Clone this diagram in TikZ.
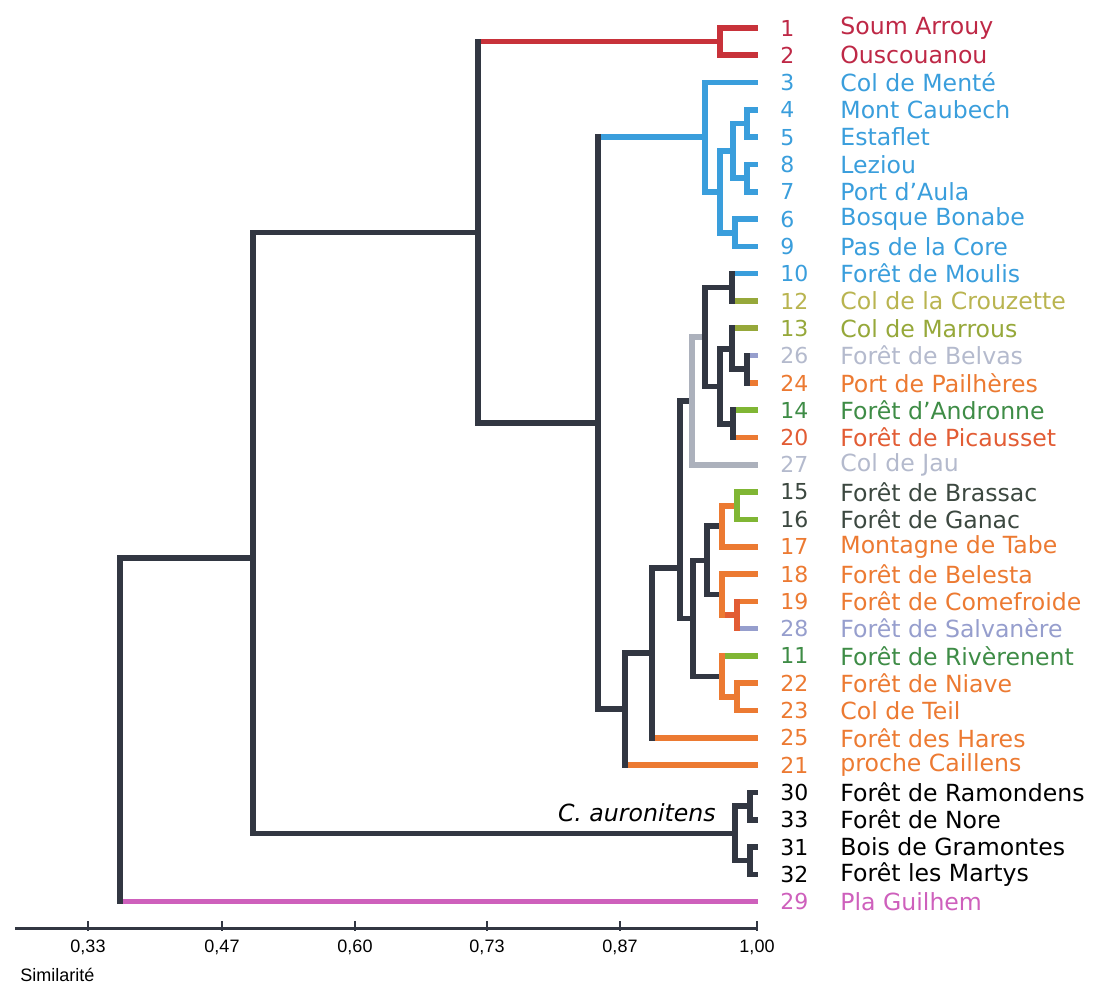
\documentclass[tikz,border=0pt]{standalone}
\usepackage{fontspec}
\setmainfont{DejaVu Sans}
\newfontfamily\achsenfont{Liberation Sans}
\begin{document}
\begin{tikzpicture}[x=0.5pt, y=-0.5pt,
	ast/.style={line width=2.8pt, line cap=rect},
	nrlab/.style={anchor=west, inner sep=0pt, font=\fontsize{11}{13}\selectfont},
	namelab/.style={anchor=west, inner sep=0pt, font=\fontsize{11.8}{13}\selectfont},
	achse/.style={inner sep=0pt, font=\achsenfont\fontsize{9}{11}\selectfont}]
	
	% Farben definieren
	\definecolor{dunkel}{RGB}{50,55,66}
	\definecolor{rot}{RGB}{200,50,58}
	\definecolor{blau}{RGB}{58,158,220}
	\definecolor{grau}{RGB}{172,177,188}
	\definecolor{graublau}{RGB}{150,158,205}
	\definecolor{orange}{RGB}{236,122,50}
	\definecolor{orangerot}{RGB}{226,92,52}
	\definecolor{gruen}{RGB}{128,182,52}
	\definecolor{oliv}{RGB}{150,168,58}
	\definecolor{rosa}{RGB}{206,96,188}
	\definecolor{txtoliv}{RGB}{185,180,80}
	\definecolor{txtgruen}{RGB}{62,140,70}
	\definecolor{txtgrau}{RGB}{180,186,205}
	\definecolor{txtdunkel}{RGB}{60,72,64}
	\definecolor{txtrot}{RGB}{190,40,70}
	
	% Rahmen des Bildes
	\useasboundingbox (0,0) rectangle (1098,994);
	
	% Blätter: Endpunkt, Nummer, Name
	\foreach \i/\nr/\name/\farbe in {
		0/1/Soum Arrouy/txtrot, 1/2/Ouscouanou/txtrot,
		2/3/Col de Menté/blau, 3/4/Mont Caubech/blau, 4/5/Estaflet/blau,
		5/8/Leziou/blau, 6/7/Port d'Aula/blau, 7/6/Bosque Bonabe/blau,
		8/9/Pas de la Core/blau, 9/10/Forêt de Moulis/blau,
		10/12/Col de la Crouzette/txtoliv, 11/13/Col de Marrous/oliv,
		12/26/Forêt de Belvas/txtgrau, 13/24/Port de Pailhères/orange,
		14/14/Forêt d'Andronne/txtgruen, 15/20/Forêt de Picausset/orangerot,
		16/27/Col de Jau/txtgrau, 17/15/Forêt de Brassac/txtdunkel,
		18/16/Forêt de Ganac/txtdunkel, 19/17/Montagne de Tabe/orange,
		20/18/Forêt de Belesta/orange, 21/19/Forêt de Comefroide/orange,
		22/28/Forêt de Salvanère/graublau, 23/11/Forêt de Rivèrenent/txtgruen,
		24/22/Forêt de Niave/orange, 25/23/Col de Teil/orange,
		26/25/Forêt des Hares/orange, 27/21/proche Caillens/orange,
		28/30/Forêt de Ramondens/black, 29/33/Forêt de Nore/black,
		30/31/Bois de Gramontes/black, 31/32/Forêt les Martys/black,
		32/29/Pla Guilhem/rosa}{
		\coordinate (l\nr) at (755,{28+27.3*\i});
		\node[nrlab, text=\farbe] (nr\nr) at (780,{28+27.3*\i}) {\nr};
		\node[namelab, text=\farbe] (name\nr) at (840,{28+27.3*\i}) {\name};
	}
	
	% Knoten des Dendrogramms
	\coordinate (k12) at (720,41.6);
	\coordinate (k45) at (747,123.5);
	\coordinate (k78) at (747,178.2);
	\coordinate (k4578) at (733,150.9);
	\coordinate (k69) at (735,232.8);
	\coordinate (k4569) at (720,191.8);
	\coordinate (k3bis9) at (705,137.2);
	\coordinate (k1012) at (732,287.4);
	\coordinate (k2426) at (747,369.3);
	\coordinate (k13bis24) at (732,348.8);
	\coordinate (k1420) at (733,423.9);
	\coordinate (k13bis20) at (720,386.4);
	\coordinate (k10bis20) at (705,336.9);
	\coordinate (k10bis27) at (692,400.9);
	\coordinate (k1516) at (737,505.8);
	\coordinate (k15bis17) at (722,526.2);
	\coordinate (k1928) at (737,615);
	\coordinate (k18bis28) at (722,594.5);
	\coordinate (k15bis28) at (707,560.4);
	\coordinate (k2223) at (737,696.9);
	\coordinate (k11bis23) at (722,676.4);
	\coordinate (k11bis28) at (693,618.4);
	\coordinate (k10bis28) at (680,568);
	\coordinate (k10bis25) at (652,652.9);
	\coordinate (k10bis21) at (625,709);
	\coordinate (k3bis21) at (598,423.1);
	\coordinate (k1bis21) at (478,232.4);
	\coordinate (k3033) at (750,806);
	\coordinate (k3132) at (750,860.6);
	\coordinate (k30bis32) at (735,833.3);
	\coordinate (k1bis32) at (253,558);
	\coordinate (wurzel) at (120,730);
	
	% Zweige (waagerecht)
	\foreach \p/\c/\f in {k12/l1/rot, k12/l2/rot, k45/l4/blau, k45/l5/blau,
		k78/l8/blau, k78/l7/blau, k4578/k45/blau, k4578/k78/blau,
		k69/l6/blau, k69/l9/blau, k4569/k4578/blau, k4569/k69/blau,
		k3bis9/l3/blau, k3bis9/k4569/blau, k1012/l10/blau, k1012/l12/oliv,
		k2426/l26/graublau, k2426/l24/orange, k13bis24/l13/oliv, k13bis24/k2426/dunkel,
		k1420/l14/gruen, k1420/l20/orange, k13bis20/k13bis24/dunkel, k13bis20/k1420/dunkel,
		k10bis20/k1012/dunkel, k10bis20/k13bis20/dunkel, k10bis27/k10bis20/grau, k10bis27/l27/grau,
		k1516/l15/gruen, k1516/l16/gruen, k15bis17/k1516/orange, k15bis17/l17/orange,
		k1928/l19/orange, k1928/l28/graublau, k18bis28/l18/orange, k18bis28/k1928/orangerot,
		k15bis28/k15bis17/dunkel, k15bis28/k18bis28/dunkel, k2223/l22/orange, k2223/l23/orange,
		k11bis23/l11/gruen, k11bis23/k2223/orange, k11bis28/k15bis28/dunkel, k11bis28/k11bis23/dunkel,
		k10bis28/k10bis27/dunkel, k10bis28/k11bis28/dunkel, k10bis25/k10bis28/dunkel, k10bis25/l25/orange,
		k10bis21/k10bis25/dunkel, k10bis21/l21/orange, k3bis21/k3bis9/blau, k3bis21/k10bis21/dunkel,
		k1bis21/k12/rot, k1bis21/k3bis21/dunkel, k3033/l30/dunkel, k3033/l33/dunkel,
		k3132/l31/dunkel, k3132/l32/dunkel, k30bis32/k3033/dunkel, k30bis32/k3132/dunkel,
		k1bis32/k1bis21/dunkel, k1bis32/k30bis32/dunkel, wurzel/k1bis32/dunkel, wurzel/l29/rosa}
		\draw[ast, \f] (\p |- \c) -- (\c);
	
	% Stämme (senkrecht)
	\foreach \p/\a/\b/\f in {k12/l1/l2/rot, k45/l4/l5/blau, k78/l8/l7/blau,
		k4578/k45/k78/blau, k69/l6/l9/blau, k4569/k4578/k69/blau, k3bis9/l3/k4569/blau,
		k1012/l10/l12/dunkel, k2426/l26/l24/dunkel, k13bis24/l13/k2426/dunkel,
		k1420/l14/l20/dunkel, k13bis20/k13bis24/k1420/dunkel, k10bis20/k1012/k13bis20/dunkel,
		k10bis27/k10bis20/l27/grau, k1516/l15/l16/gruen, k15bis17/k1516/l17/orange,
		k1928/l19/l28/orangerot, k18bis28/l18/k1928/orange, k15bis28/k15bis17/k18bis28/dunkel,
		k2223/l22/l23/orange, k11bis23/l11/k2223/orange, k11bis28/k15bis28/k11bis23/dunkel,
		k10bis28/k10bis27/k11bis28/dunkel, k10bis25/k10bis28/l25/dunkel,
		k10bis21/k10bis25/l21/dunkel, k3bis21/k3bis9/k10bis21/dunkel, k1bis21/k12/k3bis21/dunkel,
		k3033/l30/l33/dunkel, k3132/l31/l32/dunkel, k30bis32/k3033/k3132/dunkel,
		k1bis32/k1bis21/k30bis32/dunkel, wurzel/k1bis32/l29/dunkel}
		\draw[ast, \f] (\p |- \a) -- (\p |- \b);
	
	% Beschriftung der Gruppe
	\node[anchor=base east, inner sep=0pt, font=\fontsize{11.8}{13}\selectfont\itshape] (auronitens) at (716,821) {C. auronitens};
	
	% Achse
	\draw[line width=1.5pt, dunkel] (15,928) -- (757,928);
	\foreach \x/\w [count=\n] in {88/{0,33}, 222/{0,47}, 355/{0,60}, 487/{0,73}, 620/{0,87}, 757/{1,00}}{
		\draw[line width=1.3pt, dunkel] (\x,921) -- (\x,931);
		\node[achse, anchor=north] (skala\n) at (\x,940) {\w};
	}
	\node[achse, anchor=north west] (simil) at (20,968) {Similarité};
\end{tikzpicture}
\end{document}
